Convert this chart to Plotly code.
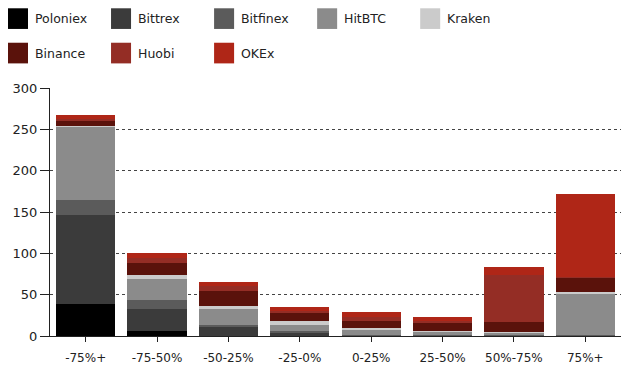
import plotly.graph_objects as go

categories = ["-75%+", "-75-50%", "-50-25%", "-25-0%", "0-25%", "25-50%", "50%-75%", "75%+"]

Poloniex = [39, 6.5, 0.5, 0.5, 0, 0, 0, 0]
Bittrex = [107.5, 26.5, 10.5, 4, 0.5, 0.5, 0.3, 0.5]
Bitfinex = [17.5, 10.5, 2, 1, 0.5, 0.5, 0.5, 0.5]
HitBTC = [89, 25.5, 19.5, 8.3, 6.5, 4, 3, 51]
Kraken = [1, 4.7, 3.5, 4.8, 2.7, 1.5, 1.5, 1.2]
Binance = [7, 15, 18, 8.7, 8.5, 9.5, 12, 17]
Huobi = [2, 6, 6, 3, 4, 2, 57, 1]
OKEx = [4.5, 6, 5, 5, 6.5, 5.3, 8.7, 101]

series_names = ["Poloniex", "Bittrex", "Bitfinex", "HitBTC", "Kraken", "Binance", "Huobi", "OKEx"]
series_values = [Poloniex, Bittrex, Bitfinex, HitBTC, Kraken, Binance, Huobi, OKEx]
colors = ["#000000", "#3b3b3b", "#5b5b5b", "#8b8b8b", "#cbcbcb", "#5a120b", "#942d25", "#af2617"]

y_ticks = [0, 50, 100, 150, 200, 250, 300]

# The page body has an 8px default margin; size the figure so it fits the window.
OFF = 8
W, H = 632 - 2 * OFF, 377 - 2 * OFF
L, T = 50 - OFF, 88 - OFF
B = H - (340 - OFF)
R = W - (620.7 - OFF)
pw, ph = W - L - R, H - T - B

fig = go.Figure()
for name, vals, col in zip(series_names, series_values, colors):
    fig.add_trace(go.Bar(
        x=categories, y=vals, name=name,
        marker=dict(color=col, line=dict(width=0)),
        showlegend=False,
    ))

# Custom legend (squares + labels), laid out in rows of 5
shapes = []
annotations = []
for i, (name, col) in enumerate(zip(series_names, colors)):
    row, colidx = divmod(i, 5)
    x0 = 8 + colidx * 103 - OFF          # figure pixel coords
    yc = 17.5 + row * 35 - OFF
    sx0 = (x0 - L) / pw
    sx1 = (x0 + 20 - L) / pw
    sy0 = (H - B - (yc + 10.5)) / ph
    sy1 = (H - B - (yc - 10.5)) / ph
    shapes.append(dict(type="rect", xref="paper", yref="paper",
                       x0=sx0, x1=sx1, y0=sy0, y1=sy1,
                       fillcolor=col, line=dict(width=0)))
    annotations.append(dict(xref="paper", yref="paper",
                            x=(x0 + 25 - L) / pw, y=(H - B - yc) / ph,
                            text=name, showarrow=False,
                            xanchor="left", yanchor="middle",
                            font=dict(family="DejaVu Sans", size=12.5, color="#222222")))

fig.update_layout(
    width=W, height=H,
    margin=dict(l=L, r=R, t=T, b=B, pad=0),
    paper_bgcolor="white", plot_bgcolor="white",
    barmode="stack", bargap=0.17,
    shapes=shapes, annotations=annotations,
    font=dict(family="DejaVu Sans", color="#222222"),
)
fig.update_xaxes(
    type="category", range=[-0.5, 7.5],
    showgrid=False, showline=True, linecolor="#222222", linewidth=1,
    ticks="outside", ticklen=5, tickcolor="#222222",
    tickfont=dict(size=12, color="#222222"), ticklabelstandoff=6,
)
fig.update_yaxes(
    range=[0, 300], tickvals=y_ticks,
    showgrid=True, gridcolor="#444444", griddash="dot", gridwidth=1,
    showline=True, linecolor="#222222", linewidth=1,
    ticks="outside", ticklen=9, tickcolor="#222222",
    tickfont=dict(size=13, color="#222222"),
    zeroline=False,
)

fig.write_html("out.html")
